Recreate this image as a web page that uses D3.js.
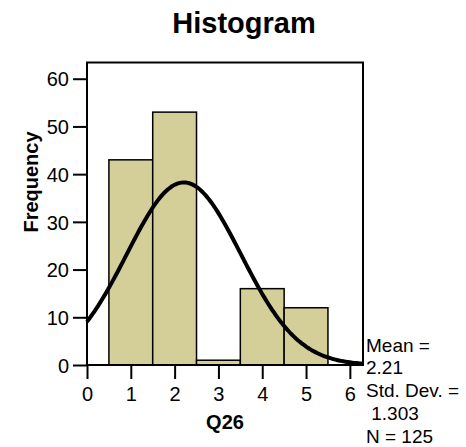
<!DOCTYPE html>
<html>
<head>
<meta charset="utf-8">
<script src="https://cdn.jsdelivr.net/npm/d3@7"></script>
<style>
  body { margin: 0; background: #fff; }
  svg { display: block; font-family: "Liberation Sans", Arial, sans-serif; }
</style>
</head>
<body>
<script>
// ---- data ----
const binCenters = [1, 2, 3, 4, 5];
const frequencies = [43, 53, 1, 16, 12];
const binWidth = 1;
const xTicks = [0, 1, 2, 3, 4, 5, 6];
const yTicks = [0, 10, 20, 30, 40, 50, 60];
const statMean = 2.21;
const statSD = 1.303;
const statN = 125;
const statLines = ["Mean =", "2.21", "Std. Dev. =", " 1.303", "N = 125"];
const titleText = "Histogram";
const xLabel = "Q26";
const yLabel = "Frequency";

const W = 466, H = 447;
const svg = d3.select("body").append("svg").attr("width", W).attr("height", H);

const x = d3.scaleLinear().domain([0, 6.3]).range([87, 363]);
const y = d3.scaleLinear().domain([0, 63.4]).range([365, 62.5]);

// bars
svg.append("g").selectAll("rect").data(binCenters).join("rect")
  .attr("x", d => x(d - binWidth / 2))
  .attr("width", d => x(d + binWidth / 2) - x(d - binWidth / 2))
  .attr("y", (d, i) => y(frequencies[i]))
  .attr("height", (d, i) => y(0) - y(frequencies[i]))
  .attr("fill", "#d4ce98")
  .attr("stroke", "#000")
  .attr("stroke-width", 1.5);

// normal curve from mean / sd / N
const pdf = v => statN * binWidth / (statSD * Math.sqrt(2 * Math.PI)) *
  Math.exp(-((v - statMean) ** 2) / (2 * statSD * statSD));
const curvePts = d3.range(0, 6.3001, 0.05).map(v => [v, pdf(v)]);
svg.append("path")
  .datum(curvePts)
  .attr("d", d3.line().x(d => x(d[0])).y(d => y(d[1])).curve(d3.curveBasis))
  .attr("fill", "none")
  .attr("stroke", "#000")
  .attr("stroke-width", 4);

// frame
svg.append("rect")
  .attr("x", x(0)).attr("y", y(63.4))
  .attr("width", x(6.3) - x(0)).attr("height", y(0) - y(63.4))
  .attr("fill", "none").attr("stroke", "#000").attr("stroke-width", 2);

// axes
const xAxis = svg.append("g").attr("transform", `translate(0,${y(0)})`)
  .call(d3.axisBottom(x).tickValues(xTicks).tickSize(14).tickPadding(8).tickFormat(d3.format("d")));
const yAxis = svg.append("g").attr("transform", `translate(${x(0)},0)`)
  .call(d3.axisLeft(y).tickValues(yTicks).tickSize(14).tickPadding(4).tickFormat(d3.format("d")));
[xAxis, yAxis].forEach(g => {
  g.select(".domain").remove();
  g.selectAll(".tick line").attr("stroke", "#000").attr("stroke-width", 2);
  g.selectAll(".tick text").attr("fill", "#000")
    .style("font-family", "'Liberation Sans', Arial, sans-serif")
    .style("font-size", "20px");
});
yAxis.selectAll(".tick text").attr("dy", "0.36em");

// title
svg.append("text").attr("x", 244).attr("y", 33)
  .attr("text-anchor", "middle").attr("font-weight", "bold").attr("font-size", 29)
  .text(titleText);

// x label
svg.append("text").attr("x", 225).attr("y", 429)
  .attr("text-anchor", "middle").attr("font-weight", "bold").attr("font-size", 20)
  .text(xLabel);

// y label
svg.append("text").attr("transform", "translate(38,182) rotate(-90)")
  .attr("text-anchor", "middle").attr("font-weight", "bold").attr("font-size", 20)
  .text(yLabel);

// stats
svg.append("g").selectAll("text").data(statLines).join("text")
  .attr("x", 366).attr("y", (d, i) => 351.5 + i * 22.8)
  .attr("font-size", 19)
  .attr("xml:space", "preserve")
  .style("white-space", "pre")
  .text(d => d);
</script>
</body>
</html>
